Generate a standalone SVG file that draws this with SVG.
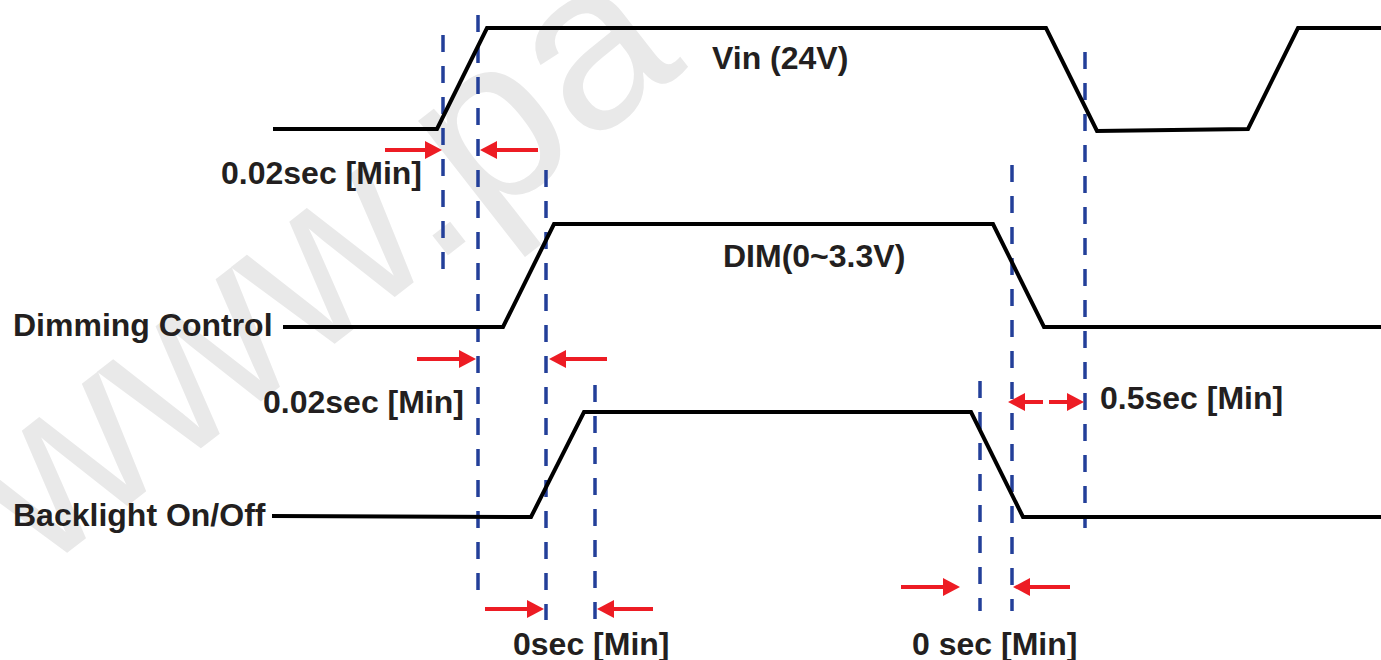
<svg xmlns="http://www.w3.org/2000/svg" width="1381" height="660" viewBox="0 0 1381 660">
  <style>
    .wm { font-family: "Liberation Sans", Arial, sans-serif; font-size: 235px; fill: #e9e9e9; }
    .lbl { font-family: "Liberation Sans", Arial, sans-serif; font-size: 32px; font-weight: bold; fill: #231f20; }
    .wave { fill: none; stroke: #000; stroke-width: 4; stroke-linejoin: miter; }
    .guide { fill: none; stroke: #233f99; stroke-width: 3.5; stroke-dasharray: 17 14; }
    .arr { fill: none; stroke: #ed1c24; stroke-width: 4; marker-end: url(#ah); }
  </style>
  <defs>
    <marker id="ah" markerUnits="userSpaceOnUse" markerWidth="18" markerHeight="18" viewBox="0 0 18 18" refX="0" refY="9" orient="auto">
      <path d="M0,0 L17,9 L0,18 z" fill="#ed1c24"/>
    </marker>
  </defs>
  <rect width="1381" height="660" fill="#fff"/>

  <g id="watermark">
    <text class="wm" transform="translate(40,574) rotate(-38)">www.pa</text>
  </g>

  <g id="connectors">
    <g id="guides">
      <line class="guide" x1="443" y1="35" x2="443" y2="270"/>
      <line class="guide" x1="478" y1="15" x2="478" y2="602"/>
      <line class="guide" x1="546" y1="170" x2="546" y2="620"/>
      <line class="guide" x1="595" y1="385" x2="595" y2="620"/>
      <line class="guide" x1="980" y1="381" x2="980" y2="611"/>
      <line class="guide" x1="1012" y1="165" x2="1012" y2="611"/>
      <line class="guide" x1="1085" y1="52" x2="1085" y2="528"/>
    </g>
    <g id="arrows">
      <line class="arr" x1="385" y1="150" x2="425" y2="150"/>
      <line class="arr" x1="538" y1="150" x2="497" y2="150"/>
      <line class="arr" x1="417" y1="359" x2="459" y2="359"/>
      <line class="arr" x1="607" y1="359" x2="566" y2="359"/>
      <line class="arr" x1="1043" y1="402" x2="1025" y2="402"/>
      <line class="arr" x1="1049" y1="402" x2="1067" y2="402"/>
      <line class="arr" x1="485" y1="609" x2="527" y2="609"/>
      <line class="arr" x1="653" y1="609" x2="614" y2="609"/>
      <line class="arr" x1="901" y1="587" x2="943" y2="587"/>
      <line class="arr" x1="1070" y1="587" x2="1030" y2="587"/>
    </g>
  </g>

  <g id="vin">
    <polyline class="wave" points="273,129 437,129 487,28 1046,28 1097,131 1248,129 1298,28 1381,28"/>
    <text class="lbl" x="712" y="69">Vin (24V)</text>
  </g>

  <g id="dimming">
    <polyline class="wave" points="283,327 503,327 554,224 993,224 1044,327 1381,327"/>
    <text class="lbl" x="13" y="336">Dimming Control</text>
    <text class="lbl" x="723" y="267">DIM(0~3.3V)</text>
  </g>

  <g id="backlight">
    <polyline class="wave" points="272,516 531,517 584,412 971,412 1023,517 1381,517"/>
    <text class="lbl" x="13" y="526">Backlight On/Off</text>
  </g>

  <g id="timing-labels">
    <text class="lbl" x="221" y="184">0.02sec [Min]</text>
    <text class="lbl" x="263" y="413">0.02sec [Min]</text>
    <text class="lbl" x="1100" y="409">0.5sec [Min]</text>
    <text class="lbl" x="513" y="655">0sec [Min]</text>
    <text class="lbl" x="912" y="655">0 sec [Min]</text>
  </g>
</svg>
